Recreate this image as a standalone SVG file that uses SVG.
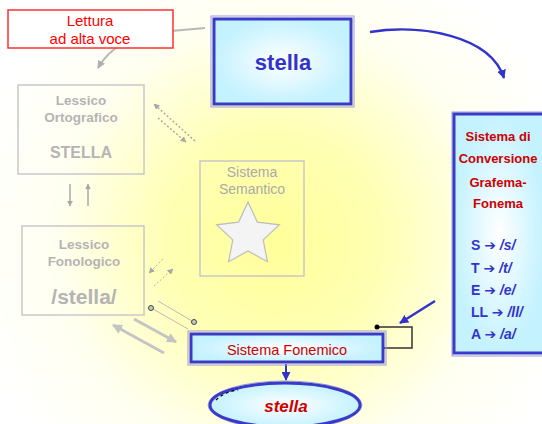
<svg xmlns="http://www.w3.org/2000/svg" width="542" height="424" viewBox="0 0 542 424">
<style>
text{font-family:"Liberation Sans","DejaVu Sans",Arial,sans-serif;text-anchor:middle}
.faint{fill:none;stroke:#c8c8c8;stroke-width:1.5}
.ftxt{fill:#b4b4b4;font-weight:bold}
.red{fill:#cc0000}
.blue{fill:#3333cc;font-weight:bold}
.bbox{stroke:#3a3ac8;stroke-width:3}
.bout{fill:none;stroke:#9a9ae0;stroke-width:1}
.arr{font-family:"DejaVu Sans",sans-serif;font-style:normal}
.lst{text-anchor:start}
</style>
<defs>
<radialGradient id="bg" gradientUnits="userSpaceOnUse" cx="275" cy="240" r="310">
<stop offset="0" stop-color="#ffff99"/>
<stop offset="0.35" stop-color="#ffffb4"/>
<stop offset="0.7" stop-color="#fffff0"/>
<stop offset="1" stop-color="#ffffff"/>
</radialGradient>
<radialGradient id="cy">
<stop offset="0" stop-color="#ffffff"/>
<stop offset="1" stop-color="#c4f2ff"/>
</radialGradient>
<marker id="ag" viewBox="0 0 10 10" refX="9" refY="5" markerWidth="8" markerHeight="8" markerUnits="userSpaceOnUse" orient="auto"><path d="M0,0 L10,5 L0,10 z" fill="#b0b0b0"/></marker>
<marker id="ag2" viewBox="0 0 10 10" refX="9" refY="5" markerWidth="6" markerHeight="6" markerUnits="userSpaceOnUse" orient="auto"><path d="M0,0 L10,5 L0,10 z" fill="#a8a8a8"/></marker>
<marker id="ag3" viewBox="0 0 10 10" refX="9" refY="5" markerWidth="10" markerHeight="10" markerUnits="userSpaceOnUse" orient="auto"><path d="M0,0 L10,5 L0,10 z" fill="#c4c4c4"/></marker>
<marker id="ab" viewBox="0 0 10 10" refX="9" refY="5" markerWidth="9" markerHeight="9" markerUnits="userSpaceOnUse" orient="auto"><path d="M0,0 L10,5 L0,10 z" fill="#3333cc"/></marker>
</defs>
<rect x="0" y="0" width="542" height="424" fill="url(#bg)"/>

<g id="connectors">
<path d="M205,28 L160,32 Q115,38 98,68" fill="none" stroke="#b8b8b8" stroke-width="2" marker-end="url(#ag)"/>
<path d="M370,32 C420,24 490,35 504,78" fill="none" stroke="#3333cc" stroke-width="2.5" marker-end="url(#ab)"/>
<line x1="70" y1="184" x2="70" y2="206" stroke="#a8a8a8" stroke-width="1.5" marker-end="url(#ag2)"/>
<line x1="88" y1="206" x2="88" y2="184" stroke="#a8a8a8" stroke-width="1.5" marker-end="url(#ag2)"/>
<line x1="195" y1="141" x2="154" y2="104" stroke="#aaaaaa" stroke-width="1.5" stroke-dasharray="2,2" marker-end="url(#ag2)"/>
<line x1="158" y1="118" x2="186" y2="142" stroke="#aaaaaa" stroke-width="1.5" stroke-dasharray="2,2" marker-end="url(#ag2)"/>
<line x1="163" y1="259" x2="149" y2="273" stroke="#b4b4b4" stroke-width="1" stroke-dasharray="2,2" marker-end="url(#ag2)"/>
<line x1="154" y1="286" x2="173" y2="269" stroke="#b4b4b4" stroke-width="1" stroke-dasharray="2,2" marker-end="url(#ag2)"/>
<line x1="158" y1="301" x2="192" y2="321" stroke="#bbbbbb" stroke-width="1"/>
<line x1="153" y1="309" x2="188" y2="329" stroke="#bbbbbb" stroke-width="1"/>
<circle cx="151" cy="308" r="2.5" fill="#c8c8c8" stroke="#444" stroke-width="1"/>
<circle cx="194" cy="322" r="2.5" fill="#c8c8c8" stroke="#444" stroke-width="1"/>
<line x1="134" y1="319" x2="176" y2="342" stroke="#c4c4c4" stroke-width="3" marker-end="url(#ag3)"/>
<line x1="164" y1="353" x2="113" y2="325" stroke="#c4c4c4" stroke-width="3" marker-end="url(#ag3)"/>
<polyline points="377,327 412,327 412,348 384,348" fill="none" stroke="#333" stroke-width="1.5"/>
<circle cx="377" cy="327" r="2.5" fill="#000"/>
<line x1="435" y1="301" x2="400" y2="323" stroke="#3333cc" stroke-width="2.5" marker-end="url(#ab)"/>
<line x1="286" y1="364" x2="286" y2="380" stroke="#3333cc" stroke-width="2" marker-end="url(#ab)"/>
</g>

<g id="lettura">
<rect x="8" y="10" width="165" height="38" fill="#ffffff" stroke="#ff3030" stroke-width="1.5"/>
<text x="90" y="26" font-size="15" fill="#ff0000">Lettura</text>
<text x="90" y="44" font-size="15" fill="#ff0000">ad alta voce</text>
</g>

<g id="stella">
<rect x="211" y="16" width="143" height="91" class="bout"/>
<rect x="214" y="19" width="137" height="85" fill="url(#cy)" class="bbox"/>
<text x="283" y="70" font-size="22" class="blue">stella</text>
</g>

<g id="conversione">
<rect x="452" y="112" width="92" height="244" class="bout"/>
<rect x="454" y="114" width="90" height="239" fill="url(#cy)" class="bbox"/>
<g class="red" font-size="13" font-weight="bold">
<text x="498" y="141">Sistema di</text>
<text x="498" y="163">Conversione</text>
<text x="498" y="187">Grafema-</text>
<text x="498" y="208">Fonema</text>
</g>
<g class="blue" font-size="14">
<text x="471" y="250" class="lst">S <tspan class="arr">➔</tspan> <tspan font-style="italic">/s/</tspan></text>
<text x="471" y="273" class="lst">T <tspan class="arr">➔</tspan> <tspan font-style="italic">/t/</tspan></text>
<text x="471" y="295" class="lst">E <tspan class="arr">➔</tspan> <tspan font-style="italic">/e/</tspan></text>
<text x="471" y="317" class="lst">LL <tspan class="arr">➔</tspan> <tspan font-style="italic">/ll/</tspan></text>
<text x="471" y="339" class="lst">A <tspan class="arr">➔</tspan> <tspan font-style="italic">/a/</tspan></text>
</g>
</g>

<g id="lessico-ortografico">
<rect x="18" y="85" width="126" height="89" fill="#ffffff" fill-opacity="0.7" class="faint"/>
<text x="81" y="105" font-size="13.5" class="ftxt">Lessico</text>
<text x="81" y="122" font-size="13.5" class="ftxt">Ortografico</text>
<text x="81" y="158" font-size="16" class="ftxt">STELLA</text>
</g>

<g id="sistema-semantico">
<rect x="200" y="161" width="104" height="115" fill="#ffff9a" fill-opacity="0.45" class="faint"/>
<text x="252" y="177" font-size="14" fill="#aaaaaa">Sistema</text>
<text x="252" y="194" font-size="14" fill="#aaaaaa">Semantico</text>
<polygon points="248,202 257.4,222.1 279.4,224.8 263.2,239.9 267.4,261.7 248,251 228.6,261.7 232.8,239.9 216.6,224.8 238.6,222.1" fill="#f4f4f4" stroke="#bdbdbd" stroke-width="1.2"/>
</g>

<g id="lessico-fonologico">
<rect x="22" y="226" width="122" height="89" fill="#ffffff" fill-opacity="0.7" class="faint"/>
<text x="84" y="249" font-size="13.5" class="ftxt">Lessico</text>
<text x="84" y="266" font-size="13.5" class="ftxt">Fonologico</text>
<text x="84" y="304" font-size="21" class="ftxt">/stella/</text>
</g>

<g id="sistema-fonemico">
<rect x="188" y="331" width="198" height="34" class="bout"/>
<rect x="191" y="334" width="192" height="28" fill="url(#cy)" class="bbox"/>
<text x="287" y="355" font-size="14.5" class="red">Sistema Fonemico</text>
</g>

<g id="output-stella">
<ellipse cx="285" cy="405" rx="77" ry="24" class="bout"/>
<ellipse cx="285" cy="405" rx="75" ry="22" fill="url(#cy)" class="bbox"/>
<path d="M216,400 Q224,392 238,390" fill="none" stroke="#000" stroke-width="1.2" stroke-dasharray="3,3"/>
<text x="286" y="412" font-size="17" font-weight="bold" font-style="italic" class="red">stella</text>
</g>
</svg>
